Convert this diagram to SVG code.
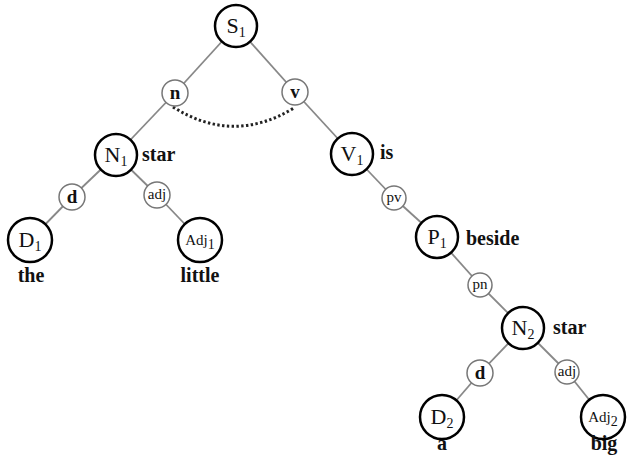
<svg xmlns="http://www.w3.org/2000/svg" width="631" height="464" viewBox="0 0 631 464" font-family="'Liberation Serif', 'Times New Roman', serif">
<style>
.big{fill:#fff;stroke:#000;stroke-width:2.5}
.sm{fill:#fff;stroke:#777;stroke-width:1.5}
.e{stroke:#888;stroke-width:1.8;fill:none}
text{font-family:'Liberation Serif','Times New Roman',serif;fill:#111}
.nl{font-size:22px;text-anchor:middle}
.al{font-size:15px;text-anchor:middle}
.sub{font-size:14px}
.sl{font-size:19px;font-weight:bold;text-anchor:middle}
.sr{font-size:15px;text-anchor:middle}
.w{font-size:20px;font-weight:bold}
.wm{font-size:20px;font-weight:bold;text-anchor:middle}
</style>
<rect width="631" height="464" fill="#fff"/>
<g id="connectors">
<line class="e" x1="236" y1="26" x2="175" y2="93"/>
<line class="e" x1="236" y1="26" x2="295" y2="92"/>
<line class="e" x1="175" y1="93" x2="116" y2="155"/>
<line class="e" x1="295" y1="92" x2="352" y2="154"/>
<line class="e" x1="116" y1="155" x2="72" y2="197"/>
<line class="e" x1="116" y1="155" x2="157" y2="195"/>
<line class="e" x1="72" y1="197" x2="30" y2="240"/>
<line class="e" x1="157" y1="195" x2="200" y2="240"/>
<line class="e" x1="352" y1="154" x2="394" y2="198"/>
<line class="e" x1="394" y1="198" x2="437" y2="237"/>
<line class="e" x1="437" y1="237" x2="480" y2="285"/>
<line class="e" x1="480" y1="285" x2="523" y2="328"/>
<line class="e" x1="523" y1="328" x2="480" y2="373"/>
<line class="e" x1="523" y1="328" x2="567" y2="372"/>
<line class="e" x1="480" y1="373" x2="442" y2="417"/>
<line class="e" x1="567" y1="372" x2="603" y2="417"/>
<path d="M173,107 Q233,145 294,108" fill="none" stroke="#222" stroke-width="3" stroke-dasharray="2.4,2.4"/>
</g>
<g id="S1"><circle class="big" cx="236" cy="26" r="21"/><text class="nl" x="236" y="33">S<tspan class="sub" dy="4">1</tspan></text></g>
<g id="n"><circle class="sm" cx="175" cy="93" r="13"/><text class="sl" x="175" y="99">n</text></g>
<g id="v"><circle class="sm" cx="295" cy="92" r="13"/><text class="sl" x="295" y="98">v</text></g>
<g id="N1"><circle class="big" cx="116" cy="155" r="21"/><text class="nl" x="116" y="162">N<tspan class="sub" dy="4">1</tspan></text><text class="w" x="142" y="161">star</text></g>
<g id="V1"><circle class="big" cx="352" cy="154" r="21"/><text class="nl" x="352" y="161">V<tspan class="sub" dy="4">1</tspan></text><text class="w" x="380" y="159">is</text></g>
<g id="d1"><circle class="sm" cx="72" cy="197" r="13"/><text class="sl" x="72" y="203">d</text></g>
<g id="adj1"><circle class="sm" cx="157" cy="195" r="13"/><text class="sr" x="157" y="199">adj</text></g>
<g id="D1"><circle class="big" cx="30" cy="240" r="22"/><text class="nl" x="30" y="247">D<tspan class="sub" dy="4">1</tspan></text><text class="wm" x="31" y="282">the</text></g>
<g id="Adj1"><circle class="big" cx="200" cy="240" r="22"/><text class="al" x="200" y="245">Adj<tspan class="sub" font-size="11" dy="4">1</tspan></text><text class="wm" x="200" y="282">little</text></g>
<g id="pv"><circle class="sm" cx="394" cy="198" r="12"/><text class="sr" x="394" y="202">pv</text></g>
<g id="P1"><circle class="big" cx="437" cy="237" r="21"/><text class="nl" x="437" y="244">P<tspan class="sub" dy="4">1</tspan></text><text class="w" x="466" y="245">beside</text></g>
<g id="pn"><circle class="sm" cx="480" cy="285" r="12"/><text class="sr" x="480" y="289">pn</text></g>
<g id="N2"><circle class="big" cx="523" cy="328" r="21"/><text class="nl" x="523" y="335">N<tspan class="sub" dy="4">2</tspan></text><text class="w" x="553" y="334">star</text></g>
<g id="d2"><circle class="sm" cx="480" cy="373" r="13"/><text class="sl" x="480" y="379">d</text></g>
<g id="adj2"><circle class="sm" cx="567" cy="372" r="12"/><text class="sr" x="567" y="376">adj</text></g>
<g id="D2"><circle class="big" cx="442" cy="417" r="22"/><text class="nl" x="442" y="424">D<tspan class="sub" dy="4">2</tspan></text><text class="wm" x="442" y="450">a</text></g>
<g id="Adj2"><circle class="big" cx="603" cy="417" r="22"/><text class="al" x="603" y="422">Adj<tspan class="sub" font-size="11" dy="4">2</tspan></text><text class="wm" x="604" y="450">big</text></g>
</svg>
